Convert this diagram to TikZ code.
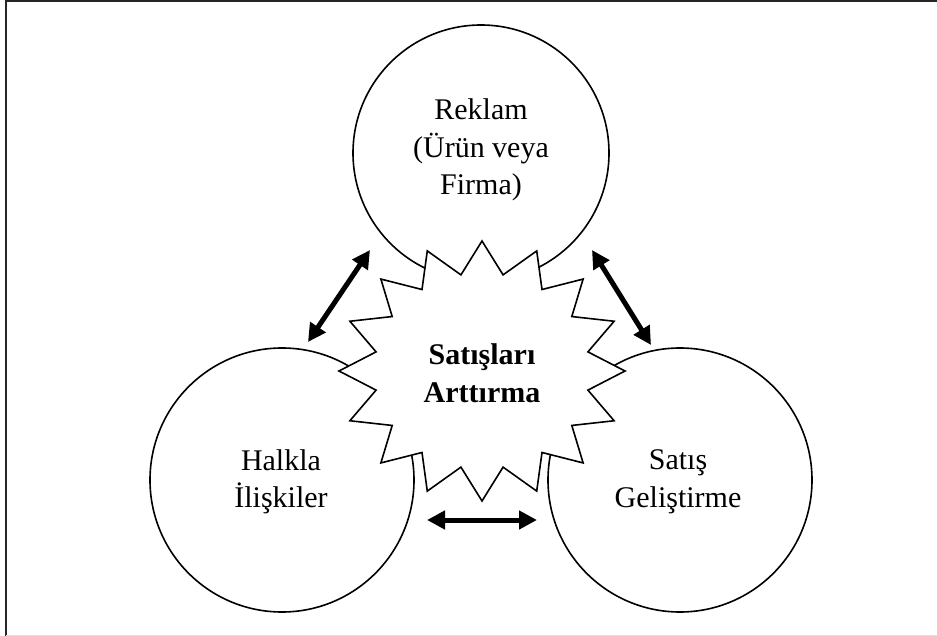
\documentclass[tikz,border=0pt]{standalone}
\usepackage{fontspec}
\setmainfont{Liberation Serif}
\usetikzlibrary{arrows.meta}
\begin{document}
\begin{tikzpicture}[x=1pt,y=-1pt,
  bubble/.style={circle,draw,line width=1.6pt,inner sep=0pt,minimum size=#1,fill=white},
  lbl/.style={align=center,font=\fontsize{30}{37.5}\selectfont,inner sep=0pt},
  dbl/.style={line width=5pt,{Triangle[length=18pt,width=18pt]}-{Triangle[length=18pt,width=18pt]}}
]
\useasboundingbox (0,0) rectangle (937,636);
% frame
\draw[line width=2.4pt,black!85] (6,636) -- (6,1.2) -- (937,1.2);
\draw[line width=1pt,black!12] (6,635.5) -- (937,635.5);
% circles
\node[bubble=256pt] (top) at (481,153) {};
\node[bubble=264pt] (left) at (282,480) {};
\node[bubble=264pt] (right) at (680,480) {};
% starburst
\draw[line width=1.6pt,fill=white,line join=miter]
  plot[variable=\k,samples at={0,...,31}]
  ({482+ifthenelse(mod(\k,2)==0,143,108)*cos(90+\k*11.25)},
   {371-ifthenelse(mod(\k,2)==0,130,98)*sin(90+\k*11.25)}) -- cycle;
\node[lbl,font=\fontsize{30}{37.5}\selectfont\bfseries] (star) at (482,373) {Satışları\\Arttırma};
% labels
\node[lbl] (toptext) at (481,150) {Reklam\\(Ürün veya\\Firma)};
\node[lbl] (lefttext) at (281,482) {Halkla\\İlişkiler};
\node[lbl] (righttext) at (678,482) {Satış\\Geliştirme};
% arrows
\coordinate (a1) at (370,250);
\coordinate (a2) at (308,342);
\coordinate (b1) at (592,250);
\coordinate (b2) at (651,345);
\coordinate (c1) at (427,520);
\coordinate (c2) at (537,520);
\draw[dbl] (a1) -- (a2);
\draw[dbl] (b1) -- (b2);
\draw[dbl] (c1) -- (c2);
\end{tikzpicture}
\end{document}
